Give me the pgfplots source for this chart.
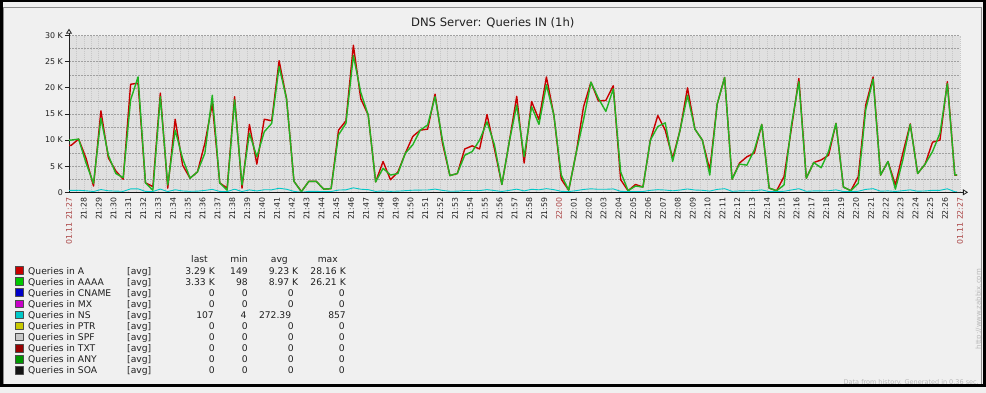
\documentclass[border=0pt]{standalone}
\usepackage{pgfplots}
\pgfplotsset{compat=1.18}
\usepackage{pgfplotstable}
\usepackage{fontspec}
\setmainfont{DejaVu Sans}
\usetikzlibrary{arrows.meta}
\definecolor{bgc}{HTML}{F0F0F0}
\definecolor{graphc}{HTML}{E0E0E0}
\definecolor{gridc}{HTML}{C8C8C8}
\definecolor{maingridc}{HTML}{A0A0A0}
\definecolor{txtc}{HTML}{202020}
\definecolor{hl}{HTML}{AA4444}
\definecolor{cA}{HTML}{C80000}
\definecolor{cAAAA}{HTML}{22B422}
\definecolor{sAAAA}{HTML}{00C800}
\definecolor{cCNAME}{HTML}{0000C8}
\definecolor{cMX}{HTML}{C800C8}
\definecolor{cNS}{HTML}{00C8C8}
\definecolor{cPTR}{HTML}{C8C800}
\definecolor{cSPF}{HTML}{C8C8C8}
\definecolor{cTXT}{HTML}{960000}
\definecolor{cANY}{HTML}{009600}
\definecolor{cSOA}{HTML}{141414}

\pgfplotstableread{
t A AAAA NS
0 9000 10000 354
0.15 9000 10000 354
0.65 10200 10200 385
1.15 6500 5600 289
1.65 1200 1700 151
2.15 15600 14200 526
2.65 6600 7100 292
3.15 4100 3600 227
3.65 2500 2800 185
4.15 20700 17700 658
4.65 20900 22100 663
5.15 1800 1800 167
5.65 1100 400 149
6.15 19000 18300 614
6.65 800 1400 141
7.15 14000 11900 484
7.65 5200 6500 255
8.15 2700 2700 190
8.65 3900 3900 221
9.15 9400 7500 364
9.65 17000 18600 562
10.15 1800 1800 167
10.65 800 400 141
11.15 18300 17700 596
11.65 800 1400 141
12.15 13000 11300 458
12.65 5400 6800 260
13.15 14000 11600 484
13.65 13700 13200 476
14.15 25200 24100 775
14.65 17900 17900 585
15.15 2100 2100 175
15.65 149 98 4
16.15 2100 2100 175
16.65 2100 2100 175
17.15 600 600 136
17.65 700 700 138
18.15 11900 11000 429
18.65 13700 13200 476
19.15 28160 26210 857
19.65 17900 19100 585
20.15 14800 14800 505
20.65 2000 2000 172
21.15 5900 4600 273
21.65 2400 3300 182
22.15 3900 3600 221
22.65 7500 7500 315
23.15 10700 9100 398
23.65 11900 11900 429
24.15 12100 12900 435
24.65 18800 18300 609
25.15 9400 10000 364
25.65 3200 3200 203
26.15 3600 3600 214
26.65 8300 7100 336
27.15 8900 7800 351
27.65 8300 10000 336
28.15 14900 13500 507
28.65 8300 9100 336
29.15 1500 1500 159
29.65 9700 9700 372
30.15 18400 16700 598
30.65 5600 6800 266
31.15 17400 16400 572
31.65 13900 13000 481
32.15 22100 20600 695
32.65 14800 14800 505
33.15 2500 3300 185
33.65 400 400 130
34.15 7500 7500 315
34.65 16400 13900 546
35.15 21100 21100 669
35.65 17500 18000 575
36.15 17600 15500 578
36.65 20400 19800 650
37.15 2400 3900 182
37.65 300 300 128
38.15 1500 1200 159
38.65 1000 1000 146
39.15 10000 10000 380
39.65 14700 12600 502
40.15 11900 13300 429
40.65 6500 5900 289
41.15 11900 11900 429
41.65 20000 18600 640
42.15 12100 12100 435
42.65 10000 10000 380
43.15 4300 3300 232
43.65 16900 16900 559
44.15 22000 22000 692
44.65 2500 2500 185
45.15 5600 5400 266
45.65 6800 5200 297
46.15 7500 8100 315
46.65 13000 13000 458
47.15 800 800 141
47.65 300 300 128
48.15 3000 1400 198
48.65 12300 12900 440
49.15 21800 21200 687
49.65 2700 2700 190
50.15 5700 5700 268
50.65 6200 4700 281
51.15 7100 7800 305
51.65 13200 13200 463
52.15 1000 1000 146
52.65 300 300 128
53.15 3000 1700 198
53.65 16700 15800 554
54.15 22100 21700 695
54.65 3300 3300 206
55.15 5900 5900 273
55.65 1400 600 156
56.15 7500 6200 315
56.65 13100 13000 461
57.15 3600 3600 214
57.65 5400 5400 260
58.15 9600 7800 370
58.65 10000 11300 380
59.15 21200 20800 671
59.65 3290 3330 107
59.8 3290 3330 107
}\dnsdata

\newcommand{\lgrow}[5]{\makebox[99pt][l]{#1}\makebox[40pt][l]{[avg]}\makebox[47.6pt][r]{#2}\makebox[33pt][r]{#3}\makebox[49pt][r]{#4}\makebox[49pt][r]{#5}}

\pgfplotsset{swatch/.style={legend image code/.code={\draw[fill=#1,draw=black!70,line width=0.5pt,solid] (0pt,-2.2pt) rectangle (7.7pt,5.4pt);}}}

\begin{document}
\begin{tikzpicture}[x=1pt,y=1pt]
\path[use as bounding box] (0,0) rectangle (986,393);
\fill[bgc] (0,0) rectangle (986,393);
\begin{axis}[
  at={(69pt,200.7pt)}, anchor=south west,
  scale only axis, width=891pt, height=156.6pt,
  xmin=0, xmax=60, ymin=0, ymax=30000,
  scaled y ticks=false, scaled x ticks=false,
  axis background/.style={fill=graphc},
  axis x line=bottom, axis y line=left,
  axis line style={draw=txtc, line width=0.8pt},
  x axis line style={-{Triangle[open,length=5pt,width=6pt]}, shorten >=-8pt},
  y axis line style={-{Triangle[open,length=5pt,width=6pt]}, shorten >=-7pt},
  xtick={0,...,60},
  xticklabels={{\textcolor{hl}{01.11 21:27}},21:28,21:29,21:30,21:31,21:32,21:33,21:34,21:35,21:36,21:37,21:38,21:39,21:40,21:41,21:42,21:43,21:44,21:45,21:46,21:47,21:48,21:49,21:50,21:51,21:52,21:53,21:54,21:55,21:56,21:57,21:58,21:59,{\textcolor{hl}{22:00}},22:01,22:02,22:03,22:04,22:05,22:06,22:07,22:08,22:09,22:10,22:11,22:12,22:13,22:14,22:15,22:16,22:17,22:18,22:19,22:20,22:21,22:22,22:23,22:24,22:25,22:26,{\textcolor{hl}{01.11 22:27}}},
  xticklabel style={rotate=90, anchor=east, font=\fontsize{7.8}{8}\selectfont, text=txtc, inner sep=1pt},
  ytick={0,5000,10000,15000,20000,25000,30000},
  yticklabels={0,5 K,10 K,15 K,20 K,25 K,30 K},
  yticklabel style={font=\fontsize{7.9}{9}\selectfont, text=txtc, inner sep=2pt},
  minor x tick num=1, minor y tick num=1,
  tick align=outside,
  major tick length=4pt, minor tick length=0pt,
  xtick style={draw=none},
  ytick style={draw=txtc, line width=0.8pt},
  grid=both,
  x grid style={gridc, line width=0.6pt, dash pattern=on 1pt off 1pt},
  y grid style={maingridc, line width=0.6pt, dash pattern=on 1.5pt off 1.5pt},
  extra x ticks={33}, extra x tick labels={},
  extra x tick style={grid=major, major grid style={maingridc, line width=0.8pt, dash pattern=on 2pt off 2pt}},
  legend style={at={(axis description cs:-0.0606,-0.4029)}, anchor=north west,
    draw=none, fill=none, inner sep=0pt, outer sep=0pt, row sep=0pt,
    font=\fontsize{9.2}{10.9}\selectfont, text=txtc,
    nodes={inner sep=0pt, text height=7.6pt, text depth=3.3pt},
    /tikz/every odd column/.append style={column sep=5pt}},
  legend cell align=left,
  every axis plot/.append style={line join=round},
]
\addlegendimage{empty legend}
\addlegendentry{\makebox[139pt][l]{}\makebox[47.6pt][r]{last\hspace{7pt}}\makebox[33pt][r]{min}\makebox[49pt][r]{avg\hspace{9pt}}\makebox[49pt][r]{max\hspace{8pt}}}
\addplot[cA, line width=1.4pt, swatch=cA] table[x=t,y=A]{\dnsdata};
\addlegendentry{\lgrow{Queries in A}{3.29 K}{149}{9.23 K\hspace{-1.4pt}}{28.16 K}}
\addplot[cAAAA, line width=1.4pt, swatch=sAAAA] table[x=t,y=AAAA]{\dnsdata};
\addlegendentry{\lgrow{Queries in AAAA}{3.33 K}{98}{8.97 K\hspace{-1.4pt}}{26.21 K}}
\addplot[cCNAME, line width=0.8pt, swatch=cCNAME] coordinates {(0,0) (59.8,0)};
\addlegendentry{\lgrow{Queries in CNAME}{0}{0}{0\hspace{3pt}}{0\hspace{1pt}}}
\addplot[cMX, line width=0.8pt, swatch=cMX] coordinates {(0,0) (59.8,0)};
\addlegendentry{\lgrow{Queries in MX}{0}{0}{0\hspace{3pt}}{0\hspace{1pt}}}
\addplot[cNS, line width=0.9pt, swatch=cNS] table[x=t,y=NS]{\dnsdata};
\addlegendentry{\lgrow{Queries in NS}{107\hspace{1pt}}{4\hspace{1.3pt}}{272.39\hspace{5.6pt}}{857}}
\addplot[cPTR, line width=0.8pt, swatch=cPTR] coordinates {(0,0) (59.8,0)};
\addlegendentry{\lgrow{Queries in PTR}{0}{0}{0\hspace{3pt}}{0\hspace{1pt}}}
\addplot[cSPF, line width=0.8pt, swatch=cSPF] coordinates {(0,0) (59.8,0)};
\addlegendentry{\lgrow{Queries in SPF}{0}{0}{0\hspace{3pt}}{0\hspace{1pt}}}
\addplot[cTXT, line width=0.8pt, swatch=cTXT] coordinates {(0,0) (59.8,0)};
\addlegendentry{\lgrow{Queries in TXT}{0}{0}{0\hspace{3pt}}{0\hspace{1pt}}}
\addplot[cANY, line width=0.8pt, swatch=cANY] coordinates {(0,0) (59.8,0)};
\addlegendentry{\lgrow{Queries in ANY}{0}{0}{0\hspace{3pt}}{0\hspace{1pt}}}
\addplot[cSOA, line width=0.8pt, swatch=cSOA] coordinates {(0,0) (59.8,0)};
\addlegendentry{\lgrow{Queries in SOA}{0}{0}{0\hspace{3pt}}{0\hspace{1pt}}}
\end{axis}
\node[font=\fontsize{11.6}{14}\selectfont, text=txtc] at (492.8,370.3) {DNS Server: Queries IN (1h)};
\node[rotate=90, font=\fontsize{7}{8}\selectfont, text=black!28, inner sep=0pt] at (979,83.8) {http://www.zabbix.com};
\node[anchor=east, font=\fontsize{6.5}{7}\selectfont, text=black!28, inner sep=0pt] at (979,10.5) {Data from history. Generated in 0.36 sec.};
\draw[black!45, line width=0.6pt] (3.6,9) rectangle (981.6,386);
\draw[black, line width=2.6pt] (1.3,7.6) rectangle (984.7,392);
\end{tikzpicture}
\end{document}
